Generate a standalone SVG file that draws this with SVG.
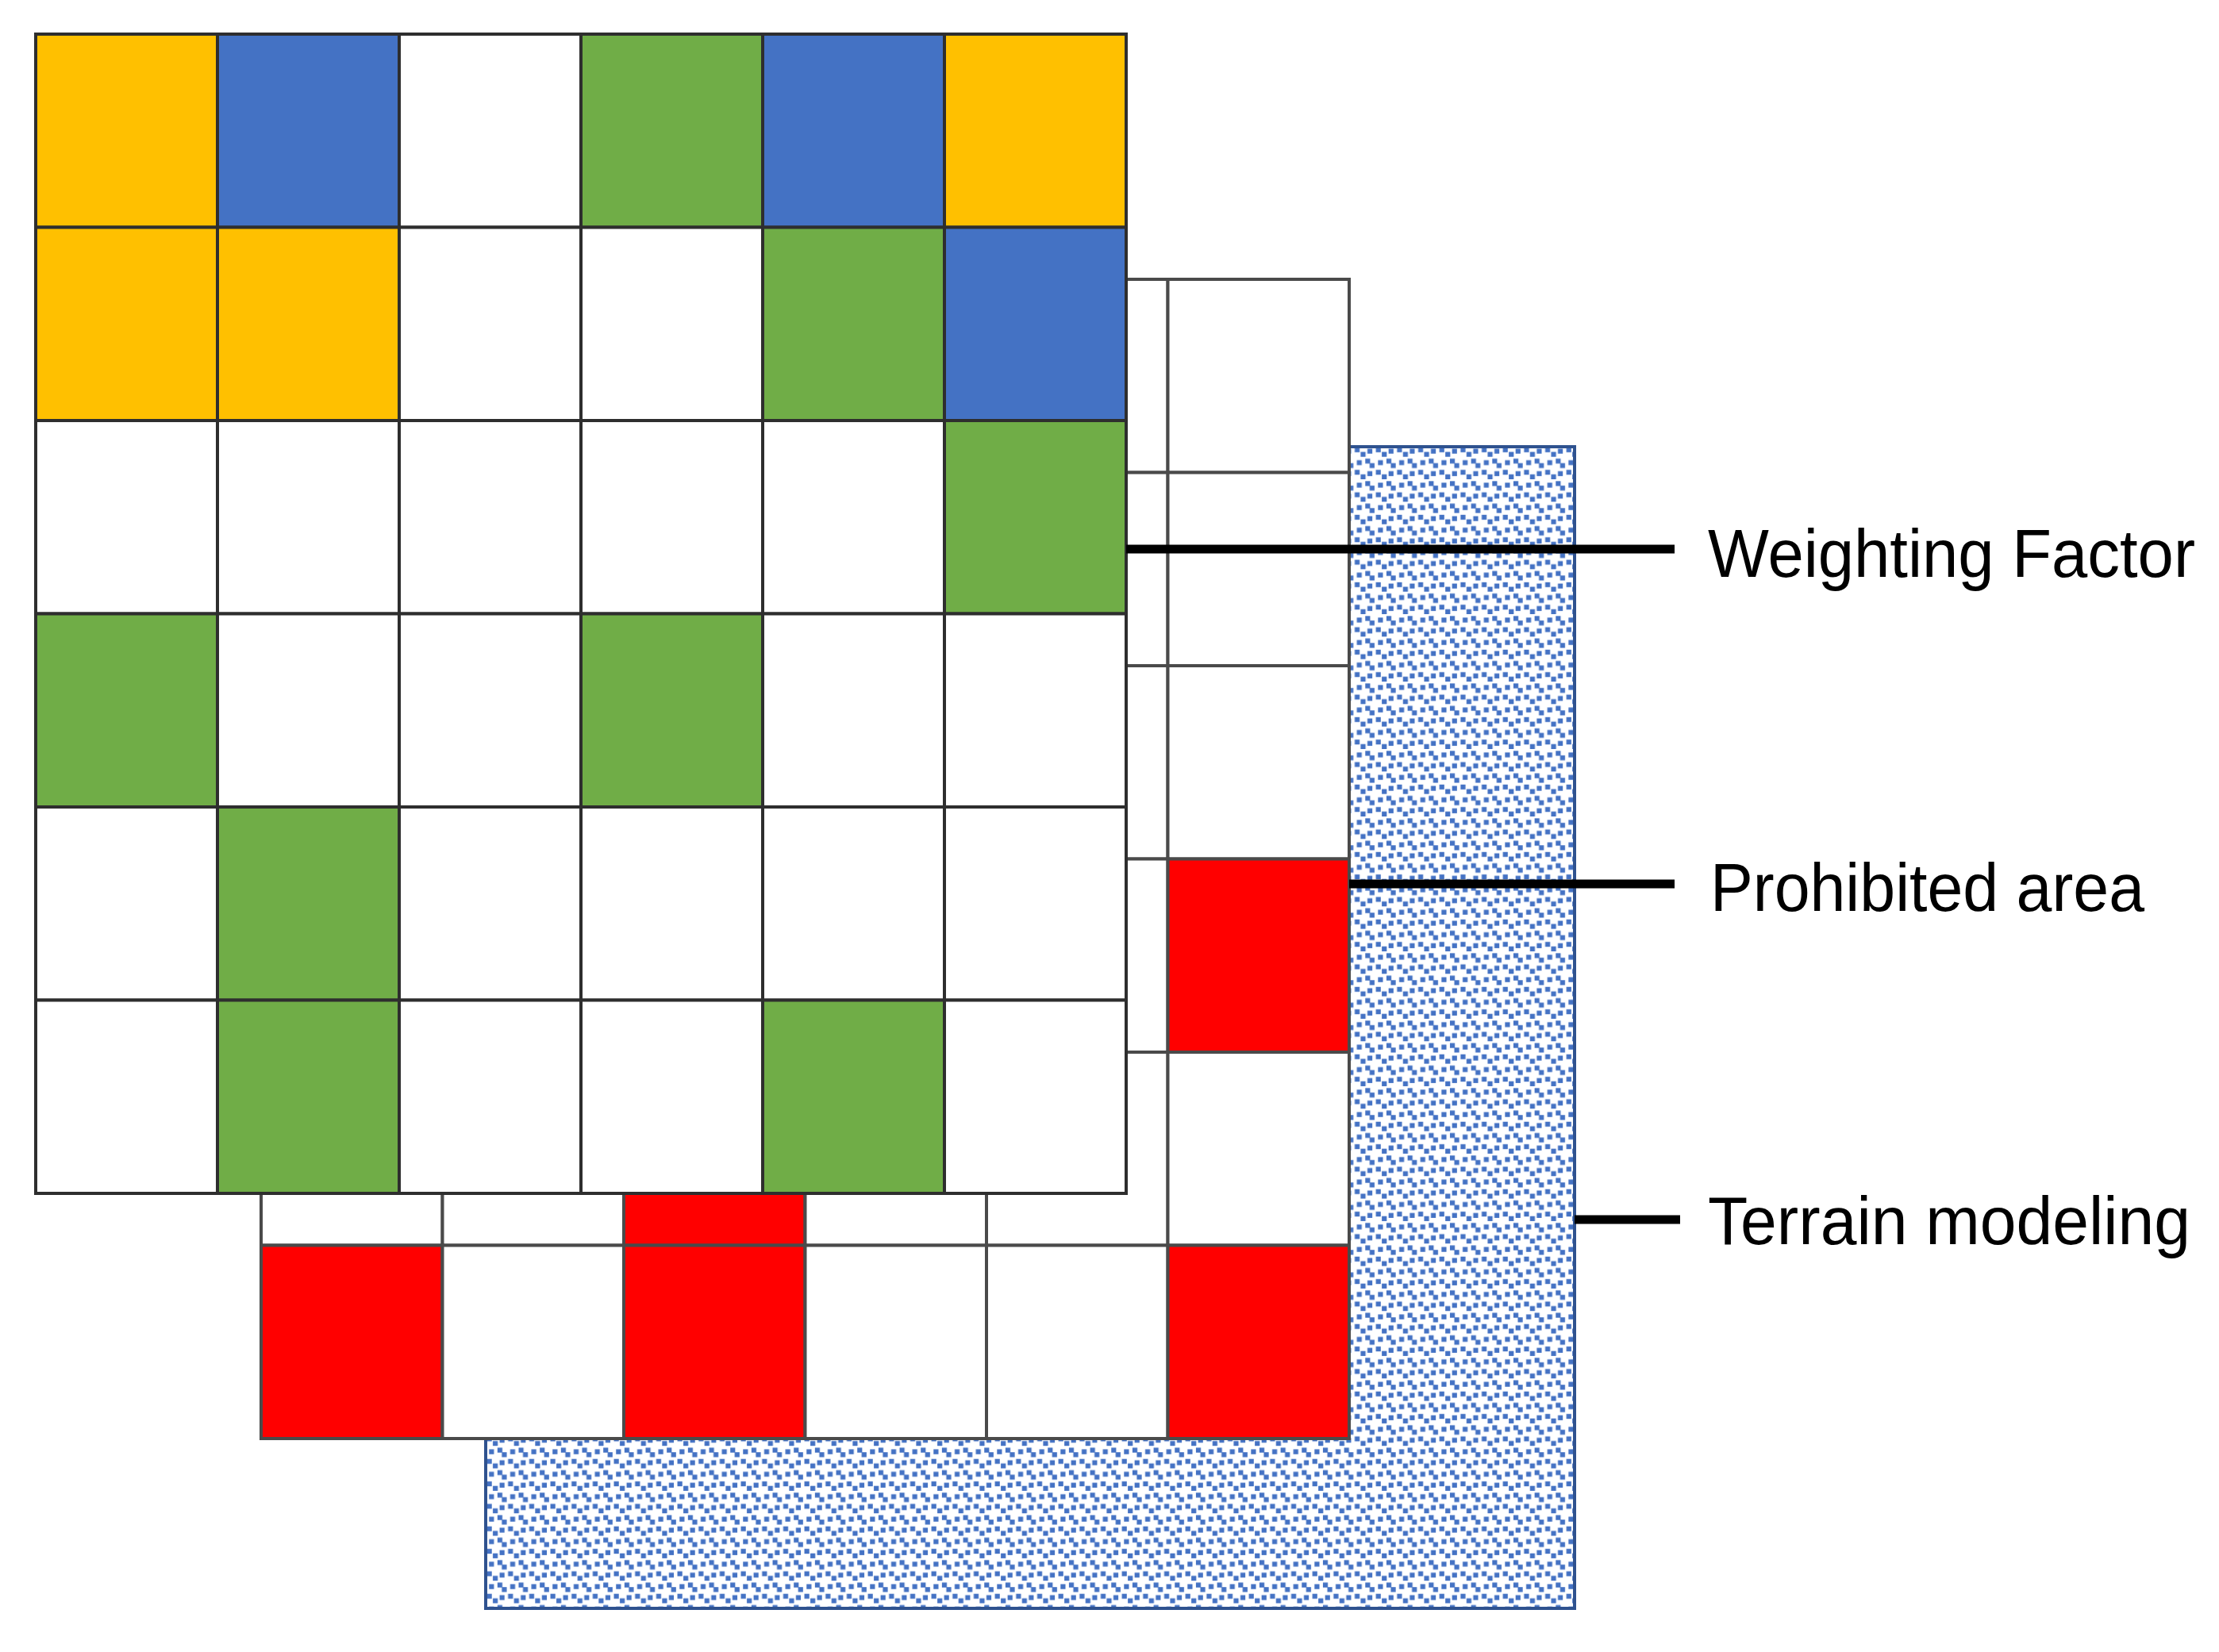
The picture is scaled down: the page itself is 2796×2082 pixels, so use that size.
<svg xmlns="http://www.w3.org/2000/svg" width="2796" height="2082" viewBox="0 0 2796 2082">
<style>
.top rect{stroke:#2e2e2e;stroke-width:4}
.mid rect{stroke:#4a4a4a;stroke-width:4}
.w{fill:#ffffff}
.y{fill:#FFC000}
.b{fill:#4472C4}
.g{fill:#70AD47}
.r{fill:#FF0000}
.conn line{stroke:#000;stroke-width:11}
.lbl{font-family:"Liberation Sans",Arial,sans-serif;font-size:85px;fill:#000}
</style>
<defs>
<pattern id="confetti" patternUnits="userSpaceOnUse" x="612" y="563" width="26.67" height="28.33">
<rect width="26.67" height="28.33" fill="#fff"/>
<g fill="#4472C4">
<rect x="1.5" y="0.8" width="6.2" height="6.2"/>
<rect x="9" y="6.5" width="6.2" height="6.2"/>
<rect x="17.5" y="2.5" width="6.2" height="6.2"/>
<rect x="14.8" y="15" width="6.2" height="6.2"/>
<rect x="20.3" y="20.7" width="6.2" height="6.2"/>
<rect x="4.2" y="17" width="6.2" height="6.2"/>
</g>
</pattern>
</defs>
<rect width="2796" height="2082" fill="#fff"/>

<g id="terrain-layer">
<rect x="612" y="563" width="1372" height="1464" fill="url(#confetti)" stroke="#2F528F" stroke-width="4"/>
</g>

<g id="prohibited-layer" class="mid">
<rect class="w" x="329" y="352" width="1371" height="1461"/>
<rect class="w" x="329" y="352" width="228.5" height="243.5"/><rect class="w" x="557.5" y="352" width="228.5" height="243.5"/><rect class="w" x="786" y="352" width="228.5" height="243.5"/><rect class="w" x="1014.5" y="352" width="228.5" height="243.5"/><rect class="w" x="1243" y="352" width="228.5" height="243.5"/><rect class="w" x="1471.5" y="352" width="228.5" height="243.5"/>
<rect class="w" x="329" y="595.5" width="228.5" height="243.5"/><rect class="w" x="557.5" y="595.5" width="228.5" height="243.5"/><rect class="w" x="786" y="595.5" width="228.5" height="243.5"/><rect class="w" x="1014.5" y="595.5" width="228.5" height="243.5"/><rect class="w" x="1243" y="595.5" width="228.5" height="243.5"/><rect class="w" x="1471.5" y="595.5" width="228.5" height="243.5"/>
<rect class="w" x="329" y="839" width="228.5" height="243.5"/><rect class="w" x="557.5" y="839" width="228.5" height="243.5"/><rect class="w" x="786" y="839" width="228.5" height="243.5"/><rect class="w" x="1014.5" y="839" width="228.5" height="243.5"/><rect class="w" x="1243" y="839" width="228.5" height="243.5"/><rect class="w" x="1471.5" y="839" width="228.5" height="243.5"/>
<rect class="w" x="329" y="1082.5" width="228.5" height="243.5"/><rect class="w" x="557.5" y="1082.5" width="228.5" height="243.5"/><rect class="w" x="786" y="1082.5" width="228.5" height="243.5"/><rect class="w" x="1014.5" y="1082.5" width="228.5" height="243.5"/><rect class="w" x="1243" y="1082.5" width="228.5" height="243.5"/><rect class="r" x="1471.5" y="1082.5" width="228.5" height="243.5"/>
<rect class="w" x="329" y="1326" width="228.5" height="243.5"/><rect class="w" x="557.5" y="1326" width="228.5" height="243.5"/><rect class="r" x="786" y="1326" width="228.5" height="243.5"/><rect class="w" x="1014.5" y="1326" width="228.5" height="243.5"/><rect class="w" x="1243" y="1326" width="228.5" height="243.5"/><rect class="w" x="1471.5" y="1326" width="228.5" height="243.5"/>
<rect class="r" x="329" y="1569.5" width="228.5" height="243.5"/><rect class="w" x="557.5" y="1569.5" width="228.5" height="243.5"/><rect class="r" x="786" y="1569.5" width="228.5" height="243.5"/><rect class="w" x="1014.5" y="1569.5" width="228.5" height="243.5"/><rect class="w" x="1243" y="1569.5" width="228.5" height="243.5"/><rect class="r" x="1471.5" y="1569.5" width="228.5" height="243.5"/>
</g>

<g id="weighting-layer" class="top">
<rect class="y" x="45" y="43" width="229" height="243.5"/><rect class="b" x="274" y="43" width="229" height="243.5"/><rect class="w" x="503" y="43" width="229" height="243.5"/><rect class="g" x="732" y="43" width="229" height="243.5"/><rect class="b" x="961" y="43" width="229" height="243.5"/><rect class="y" x="1190" y="43" width="229" height="243.5"/>
<rect class="y" x="45" y="286.5" width="229" height="243.5"/><rect class="y" x="274" y="286.5" width="229" height="243.5"/><rect class="w" x="503" y="286.5" width="229" height="243.5"/><rect class="w" x="732" y="286.5" width="229" height="243.5"/><rect class="g" x="961" y="286.5" width="229" height="243.5"/><rect class="b" x="1190" y="286.5" width="229" height="243.5"/>
<rect class="w" x="45" y="530" width="229" height="243.5"/><rect class="w" x="274" y="530" width="229" height="243.5"/><rect class="w" x="503" y="530" width="229" height="243.5"/><rect class="w" x="732" y="530" width="229" height="243.5"/><rect class="w" x="961" y="530" width="229" height="243.5"/><rect class="g" x="1190" y="530" width="229" height="243.5"/>
<rect class="g" x="45" y="773.5" width="229" height="243.5"/><rect class="w" x="274" y="773.5" width="229" height="243.5"/><rect class="w" x="503" y="773.5" width="229" height="243.5"/><rect class="g" x="732" y="773.5" width="229" height="243.5"/><rect class="w" x="961" y="773.5" width="229" height="243.5"/><rect class="w" x="1190" y="773.5" width="229" height="243.5"/>
<rect class="w" x="45" y="1017" width="229" height="243.5"/><rect class="g" x="274" y="1017" width="229" height="243.5"/><rect class="w" x="503" y="1017" width="229" height="243.5"/><rect class="w" x="732" y="1017" width="229" height="243.5"/><rect class="w" x="961" y="1017" width="229" height="243.5"/><rect class="w" x="1190" y="1017" width="229" height="243.5"/>
<rect class="w" x="45" y="1260.5" width="229" height="243.5"/><rect class="g" x="274" y="1260.5" width="229" height="243.5"/><rect class="w" x="503" y="1260.5" width="229" height="243.5"/><rect class="w" x="732" y="1260.5" width="229" height="243.5"/><rect class="g" x="961" y="1260.5" width="229" height="243.5"/><rect class="w" x="1190" y="1260.5" width="229" height="243.5"/>
</g>

<g id="connectors" class="conn">
<line x1="1419" y1="692" x2="2110" y2="692"/>
<line x1="1700" y1="1114" x2="2110" y2="1114"/>
<line x1="1984" y1="1537" x2="2117" y2="1537"/>
</g>

<g id="labels">
<text id="label-weighting" class="lbl" x="2152" y="727" textLength="614" lengthAdjust="spacingAndGlyphs">Weighting Factor</text>
<text id="label-prohibited" class="lbl" x="2155" y="1148" textLength="547" lengthAdjust="spacingAndGlyphs">Prohibited area</text>
<text id="label-terrain" class="lbl" x="2152" y="1568" textLength="608" lengthAdjust="spacingAndGlyphs">Terrain modeling</text>
</g>
</svg>
